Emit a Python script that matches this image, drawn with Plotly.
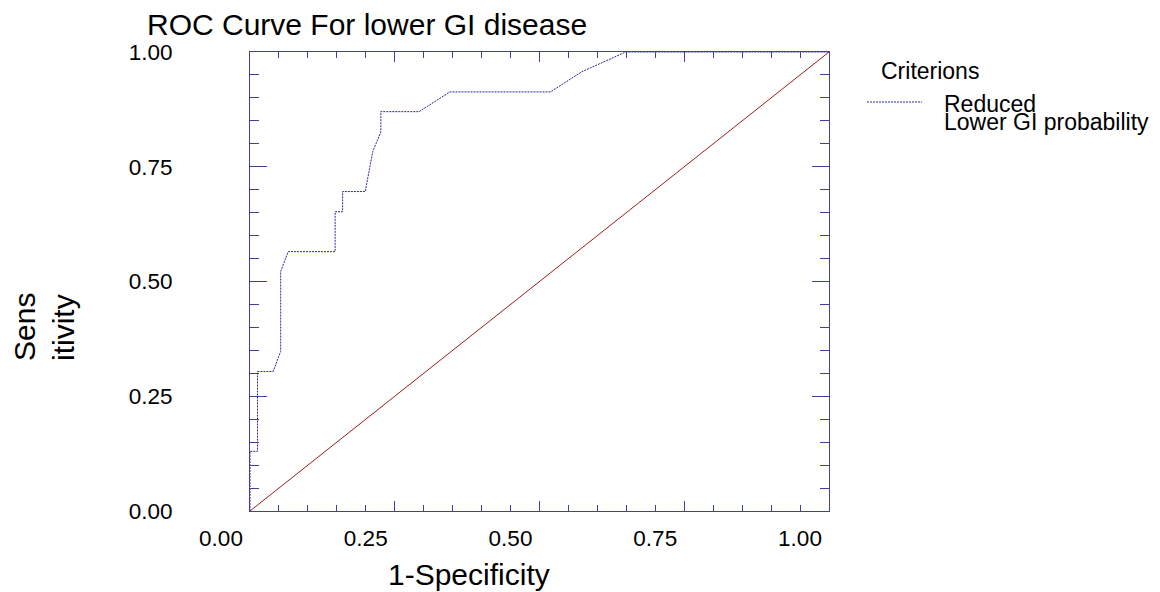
import plotly.graph_objects as go

# ROC curve for the "Reduced / Lower GI probability" criterion
fpr = [0.0, 0.0, 0.013, 0.013, 0.040, 0.053, 0.053, 0.066, 0.147, 0.147, 0.160,
       0.160, 0.199, 0.212, 0.226, 0.226, 0.292, 0.345, 0.519, 0.573, 0.649, 1.0]
tpr = [0.0, 0.130, 0.130, 0.304, 0.304, 0.348, 0.522, 0.565, 0.565, 0.652, 0.652,
       0.696, 0.696, 0.783, 0.826, 0.870, 0.870, 0.913, 0.913, 0.957, 1.0, 1.0]

# chance line
ref_x = [0.0, 1.0]
ref_y = [0.0, 1.0]

tick_vals = [0.0, 0.25, 0.5, 0.75, 1.0]
tick_text = ["0.00", "0.25", "0.50", "0.75", "1.00"]

FONT = "Liberation Sans, Arial, sans-serif"
AXIS_COLOR = "#4040a0"
CURVE_COLOR = "#2828a0"
REF_COLOR = "#9b1c1c"

W, H = 1160, 592
L, R, T, B = 250, 331, 52, 81
PW, PH = W - L - R, H - T - B


def px(x):
    return (x - L) / PW


def py(y):
    return (H - B - y) / PH


fig = go.Figure()
fig.add_trace(go.Scatter(x=ref_x, y=ref_y, mode="lines",
                         line=dict(color=REF_COLOR, width=1), showlegend=False,
                         hoverinfo="skip"))
fig.add_trace(go.Scatter(x=fpr, y=tpr, mode="lines",
                         line=dict(color=CURVE_COLOR, width=1, dash="2px,1px"),
                         name="Reduced<br>Lower GI probability", showlegend=False))

axis_common = dict(
    range=[0, 1], showline=True, linecolor=AXIS_COLOR, linewidth=1,
    mirror="allticks", ticks="inside", tickcolor=AXIS_COLOR, tickwidth=1,
    tickvals=tick_vals, ticktext=tick_text, showgrid=False, zeroline=False,
    tickfont=dict(family=FONT, size=22.5, color="black"),
    fixedrange=True,
)

fig.update_xaxes(**axis_common, ticklen=10, ticklabelshift=-29, ticklabelstandoff=7,
                 minor=dict(dtick=0.05, tick0=0, ticks="inside", ticklen=6,
                            tickcolor=AXIS_COLOR, tickwidth=1, showgrid=False))
fig.update_yaxes(**axis_common, ticklen=17, ticklabelstandoff=72,
                 minor=dict(dtick=0.05, tick0=0, ticks="inside", ticklen=9,
                            tickcolor=AXIS_COLOR, tickwidth=1, showgrid=False))

annotations = [
    dict(text="1-Specificity", x=px(469), y=py(574), xref="paper", yref="paper",
         xanchor="center", yanchor="middle", showarrow=False,
         font=dict(family=FONT, size=30, color="black")),
    dict(text="Sens<br>itivity", x=px(44), y=py(327), xref="paper", yref="paper",
         xanchor="center", yanchor="middle", showarrow=False, textangle=-90,
         align="left", font=dict(family=FONT, size=30, color="black")),
    # legend block
    dict(text="Criterions", x=px(879), y=py(71), xref="paper", yref="paper",
         xanchor="left", yanchor="middle", showarrow=False,
         font=dict(family=FONT, size=23, color="black")),
    dict(text="Reduced", x=px(942), y=py(104), xref="paper", yref="paper",
         xanchor="left", yanchor="middle", showarrow=False,
         font=dict(family=FONT, size=23, color="black")),
    dict(text="Lower GI probability", x=px(942), y=py(122), xref="paper", yref="paper",
         xanchor="left", yanchor="middle", showarrow=False,
         font=dict(family=FONT, size=23, color="black")),
]

shapes = [
    dict(type="line", xref="paper", yref="paper", x0=px(867), x1=px(922),
         y0=py(102), y1=py(102),
         line=dict(color=CURVE_COLOR, width=1, dash="2px,1px")),
]

fig.update_layout(
    width=W, height=H, autosize=False,
    margin=dict(l=L, r=R, t=T, b=B, pad=0),
    paper_bgcolor="white", plot_bgcolor="white",
    title=dict(text="ROC Curve For lower GI disease", x=147 / W, xref="container",
               xanchor="left", y=1 - 24 / H, yref="container", yanchor="middle",
               font=dict(family=FONT, size=30, color="black")),
    annotations=annotations, shapes=shapes,
    showlegend=False,
)

fig.write_html("out.html")
